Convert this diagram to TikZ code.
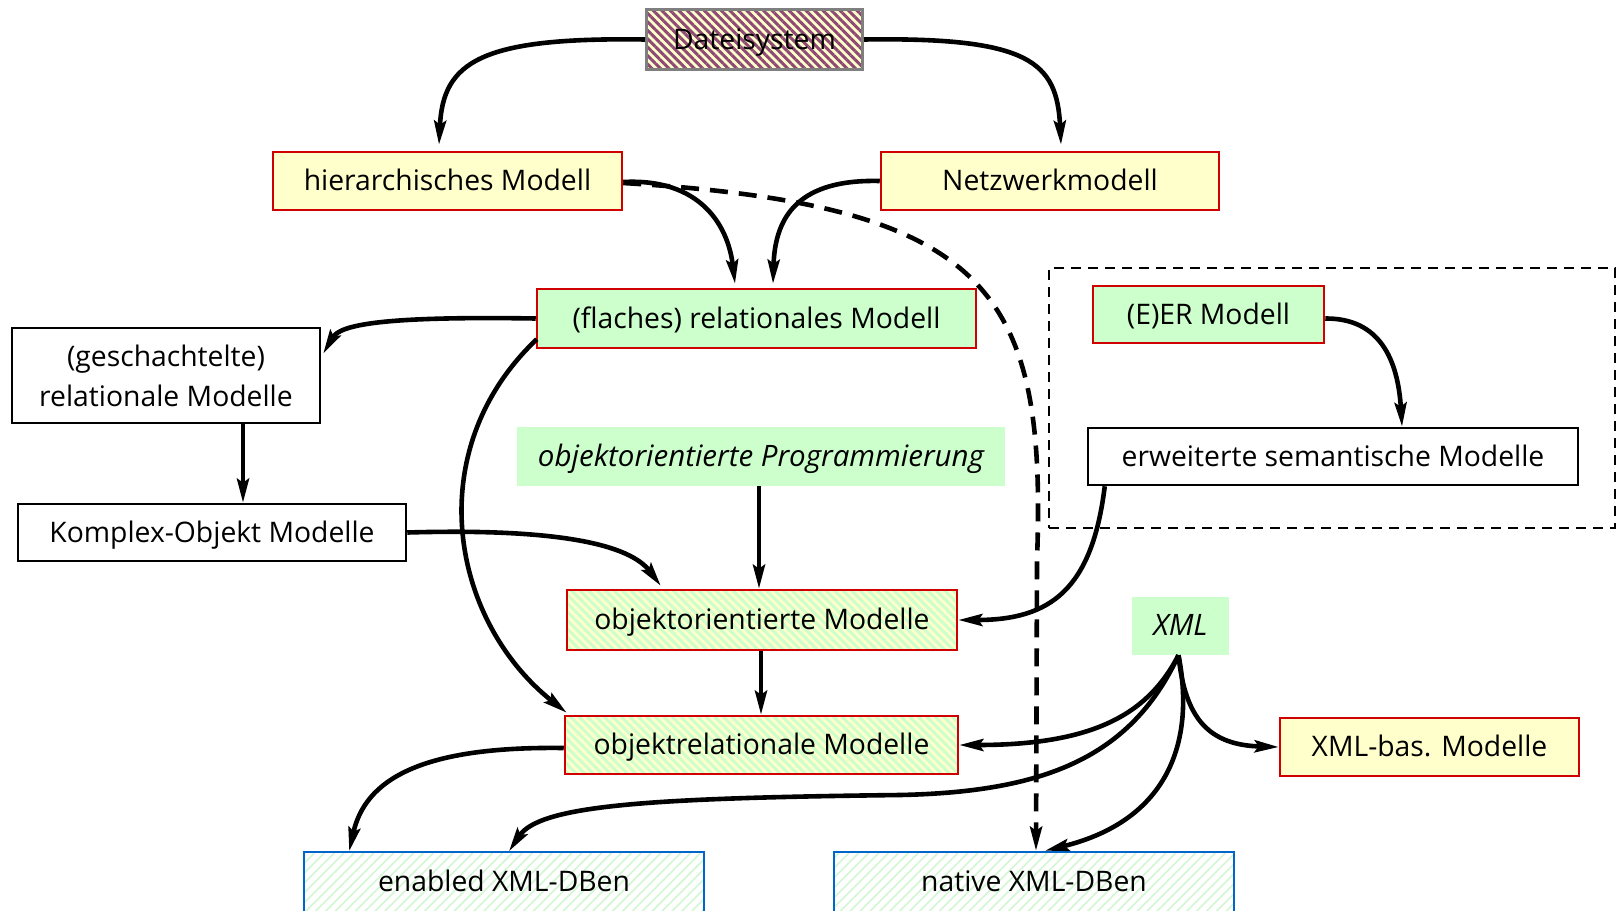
\documentclass[tikz,border=0pt]{standalone}
\usepackage{fontspec}
\setmainfont{Open Sans}
\usetikzlibrary{arrows.meta,patterns.meta,calc}
\definecolor{ylw}{HTML}{FFFFCC}
\definecolor{grn}{HTML}{CCFFCC}
\definecolor{redb}{RGB}{208,0,0}
\definecolor{blueb}{HTML}{0066CC}
\definecolor{grayb}{HTML}{7F7F7F}
\definecolor{purp}{HTML}{8E4A74}
\definecolor{hgrn}{HTML}{D2F7D2}
\tikzset{
  base/.style={inner sep=0pt, font=\fontsize{28.3}{40}\selectfont, text height=23pt, text depth=4pt},
  ybox/.style={base, draw=redb, line width=2.5pt, fill=ylw},
  gbox/.style={base, draw=redb, line width=2.5pt, fill=grn},
  wbox/.style={base, draw=black, line width=2.5pt, fill=white},
  hbox/.style={base, draw=redb, line width=2.5pt, preaction={fill=ylw},
    pattern={Lines[angle=-45,distance=6pt,line width=3pt]}, pattern color=grn},
  bbox/.style={base, draw=blueb, line width=2.5pt, preaction={fill=white},
    pattern={Lines[angle=45,distance=7pt,line width=1.6pt]}, pattern color=hgrn},
  dbox/.style={base, draw=grayb, line width=3pt, preaction={fill=ylw},
    pattern={Lines[angle=-45,distance=6pt,line width=3pt]}, pattern color=purp},
  ibox/.style={base, fill=grn, font=\fontsize{29.5}{40}\selectfont\itshape},
  arr/.style={line width=4.6pt, -{Stealth[length=24pt,width=12pt,inset=4pt]}},
  darr/.style={arr, dash pattern=on 18pt off 11pt},
  grp/.style={draw=black, line width=2pt, dash pattern=on 10pt off 7pt}
}
\begin{document}
\begin{tikzpicture}[x=1pt,y=-1pt]
\useasboundingbox (0,0) rectangle (1619,910);

% group frame
\node[grp, minimum width=566pt, minimum height=260pt, inner sep=0pt] (grpbox) at (1332,398) {};

\coordinate (dmid) at (1037,560);

% nodes
\node[dbox, minimum width=216pt, minimum height=60pt] (datei) at (754.5,39.5) {Dateisystem};
\node[ybox, minimum width=349pt, minimum height=58pt] (hier) at (447.5,181) {hierarchisches Modell};
\node[ybox, minimum width=338pt, minimum height=58pt] (netz) at (1050,181) {Netzwerkmodell};
\node[gbox, minimum width=439pt, minimum height=59pt] (flach) at (756.5,318.5) {(flaches) relationales Modell};
\node[wbox, text height=, text depth=, align=center, minimum width=308pt, minimum height=95pt] (gesch) at (166,375.5) {(geschachtelte)\\relationale Modelle};
\node[wbox, minimum width=388pt, minimum height=57pt] (komplex) at (212,532.5) {Komplex-Objekt Modelle};
\node[ibox, minimum width=488pt, minimum height=59pt] (oop) at (761,456.5) {objektorientierte Programmierung};
\node[hbox, minimum width=390pt, minimum height=60pt] (oom) at (762,620) {objektorientierte Modelle};
\node[hbox, minimum width=393pt, minimum height=58pt] (orm) at (761.5,745) {objektrelationale Modelle};
\node[ibox, minimum width=97pt, minimum height=58pt] (xml) at (1180.5,626) {XML};
\node[ybox, minimum width=299pt, minimum height=58pt] (xmlbas) at (1429.5,747) {XML-bas. Modelle};
\node[bbox, minimum width=400pt, minimum height=60pt] (enabled) at (504,882) {enabled XML-DBen};
\node[bbox, minimum width=400pt, minimum height=60pt] (native) at (1034,882) {native XML-DBen};
\node[gbox, minimum width=231pt, minimum height=57pt] (er) at (1208.5,314.5) {(E)ER Modell};
\node[wbox, minimum width=490pt, minimum height=57pt] (erw) at (1333,456.5) {erweiterte semantische Modelle};

% dashed connector
\draw[darr] ($(hier.east)+(0,2)$) .. controls (990,205) and (1047,290) .. (dmid) -- ($(native.north)+(2,0)$);

% connectors
\draw[arr] (datei.west) .. controls (480,37) and (443,62) .. ($(hier.north)+(-8.5,-6)$);
\draw[arr] (datei.east) .. controls (1030,37) and (1057,62) .. ($(netz.north)+(11,-6)$);
\draw[arr] ($(hier.east)+(0,1)$) .. controls (700,178) and (728,225) .. ($(flach.north)+(-21.5,-4)$);
\draw[arr] (netz.west) .. controls (800,179) and (775,215) .. ($(flach.north)+(16.5,-4)$);
\draw[arr] (flach.west) .. controls (380,316) and (340,325) .. ($(gesch.east)+(2,-22)$);
\draw[arr] ($(flach.south west)+(1,-10)$) .. controls (420,450) and (450,620) .. ($(orm.north west)+(3,-2)$);
\draw[arr] ([xshift=77pt]gesch.south) -- ([xshift=77pt]gesch.south |- komplex.north);
\draw[arr] (komplex.east) .. controls (560,528) and (630,545) .. ($(oom.north west)+(95,-3)$);
\draw[arr] ([xshift=-2pt]oop.south) -- ([xshift=-2pt]oop.south |- oom.north);
\draw[arr] ([xshift=-1pt]oom.south) -- ([xshift=-1pt]oom.south |- orm.north);
\draw[arr] ($(erw.south west)+(18,0)$) .. controls (1092,590) and (1050,620) .. (oom.east);
\draw[arr] ($(er.east)+(0,4)$) .. controls (1380,318) and (1398,360) .. ($(erw.north)+(69,0)$);
\draw[arr] ($(orm.west)+(0,3)$) .. controls (420,746) and (365,780) .. ($(enabled.north west)+(46,0)$);
\draw[arr] ($(xml.south)+(-2,0)$) .. controls (1150,710) and (1100,745) .. (orm.east);
\draw[arr] ($(xml.south)+(-2,0)$) .. controls (1130,760) and (1040,792) .. (900,795) .. controls (650,798) and (540,805) .. ($(enabled.north)+(5,0)$);
\draw[arr] ($(xml.south)+(-2,0)$) .. controls (1195,740) and (1170,820) .. ($(native.north)+(11,0)$);
\draw[arr] ($(xml.south)+(-2,0)$) .. controls (1185,720) and (1210,745) .. (xmlbas.west);
\end{tikzpicture}
\end{document}
